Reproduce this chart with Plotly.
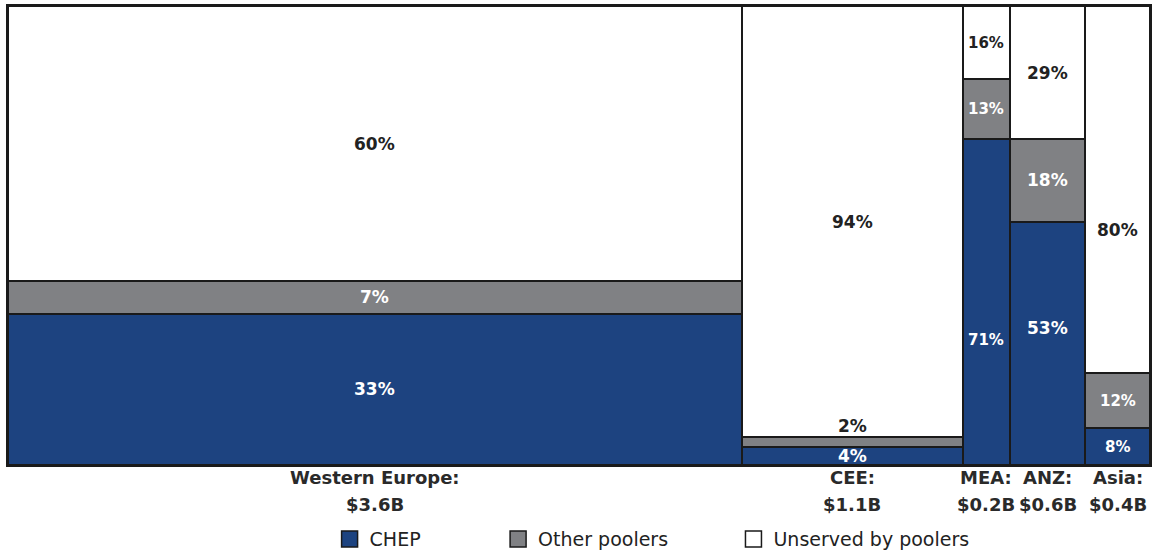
import plotly.graph_objects as go

regions = ["Western Europe:", "CEE:", "MEA:", "ANZ:", "Asia:"]
market_labels = ["$3.6B", "$1.1B", "$0.2B", "$0.6B", "$0.4B"]
# relative column widths as drawn (share of total width, %)
col_widths = [64.27, 19.35, 4.12, 6.57, 5.69]
chep = [33, 4, 71, 53, 8]
other = [7, 2, 13, 18, 12]
unserved = [60, 94, 16, 29, 80]
series_names = ["CHEP", "Other poolers", "Unserved by poolers"]

BLUE = "#1d4380"
GRAY = "#808184"
EDGE = "#1a1a1a"
FONT = "DejaVu Sans"
NB = "\u00a0"

lefts = []
acc = 0.0
for w in col_widths:
    lefts.append(acc)
    acc += w
centers = [l + w / 2 for l, w in zip(lefts, col_widths)]

fig = go.Figure()
colors = [BLUE, GRAY, "#ffffff"]
series = list(zip(series_names, [chep, other, unserved], colors))
for name, vals, col in series:
    fig.add_trace(go.Bar(
        x=centers, y=vals, width=col_widths, name=name, showlegend=False,
        marker=dict(color=col, line=dict(color=EDGE, width=2)),
        hoverinfo="skip", cliponaxis=False,
    ))

# legend entries (larger square symbols)
pads = [12, 10, 0]
for (name, vals, col), pad in zip(series, pads):
    fig.add_trace(go.Scatter(
        x=[None], y=[None], mode="markers", name=name + NB * pad,
        marker=dict(symbol="square", size=20, color=col, line=dict(color=EDGE, width=1.5)),
    ))

# label placement tweaks (fraction of segment height, default 0.5)
label_frac = {(2, 0): 0.385, (3, 0): 0.565, (4, 2): 0.39}
small_labels = {(2, 0), (2, 1), (2, 2), (4, 0), (4, 1)}

ann = []
for i in range(len(regions)):
    base = 0
    for si, (name, vals, col) in enumerate(series):
        v = vals[i]
        fc = "#222222" if si == 2 else "#ffffff"
        size = 15 if (i, si) in small_labels else 17
        if i == 1 and si == 1:
            ann.append(dict(x=centers[i], y=base + v, yanchor="bottom", yshift=-1, text=f"<b>{v}%</b>",
                            showarrow=False, font=dict(family=FONT, size=17, color="#222222")))
        else:
            f = label_frac.get((i, si), 0.5)
            ann.append(dict(x=centers[i], y=base + v * f, text=f"<b>{v}%</b>", showarrow=False,
                            font=dict(family=FONT, size=size, color=fc)))
        base += v
    ann.append(dict(x=centers[i], y=0, yref="y", yanchor="top", yshift=0, text=f"<b>{regions[i]}</b>",
                    showarrow=False, font=dict(family=FONT, size=18, color="#2a2a2a")))
    ann.append(dict(x=centers[i], y=0, yref="y", yanchor="top", yshift=-27, text=f"<b>{market_labels[i]}</b>",
                    showarrow=False, font=dict(family=FONT, size=18, color="#2a2a2a")))

axis_common = dict(range=[0, 100], showticklabels=False, showgrid=False, zeroline=False, fixedrange=True,
                   showline=True, mirror=True, linecolor=EDGE, linewidth=2)
fig.update_layout(
    width=1159, height=552,
    margin=dict(l=8, r=9, t=6, b=87, autoexpand=False),
    barmode="stack", bargap=0,
    plot_bgcolor="white", paper_bgcolor="white",
    xaxis=axis_common, yaxis=axis_common,
    annotations=ann,
    showlegend=True,
    legend=dict(orientation="h", x=0.564, xanchor="center", yref="container", y=0.0235, yanchor="middle",
                font=dict(family=FONT, size=19, color="#222222"), traceorder="normal", itemsizing="trace"),
)

fig.write_html("out.html")
